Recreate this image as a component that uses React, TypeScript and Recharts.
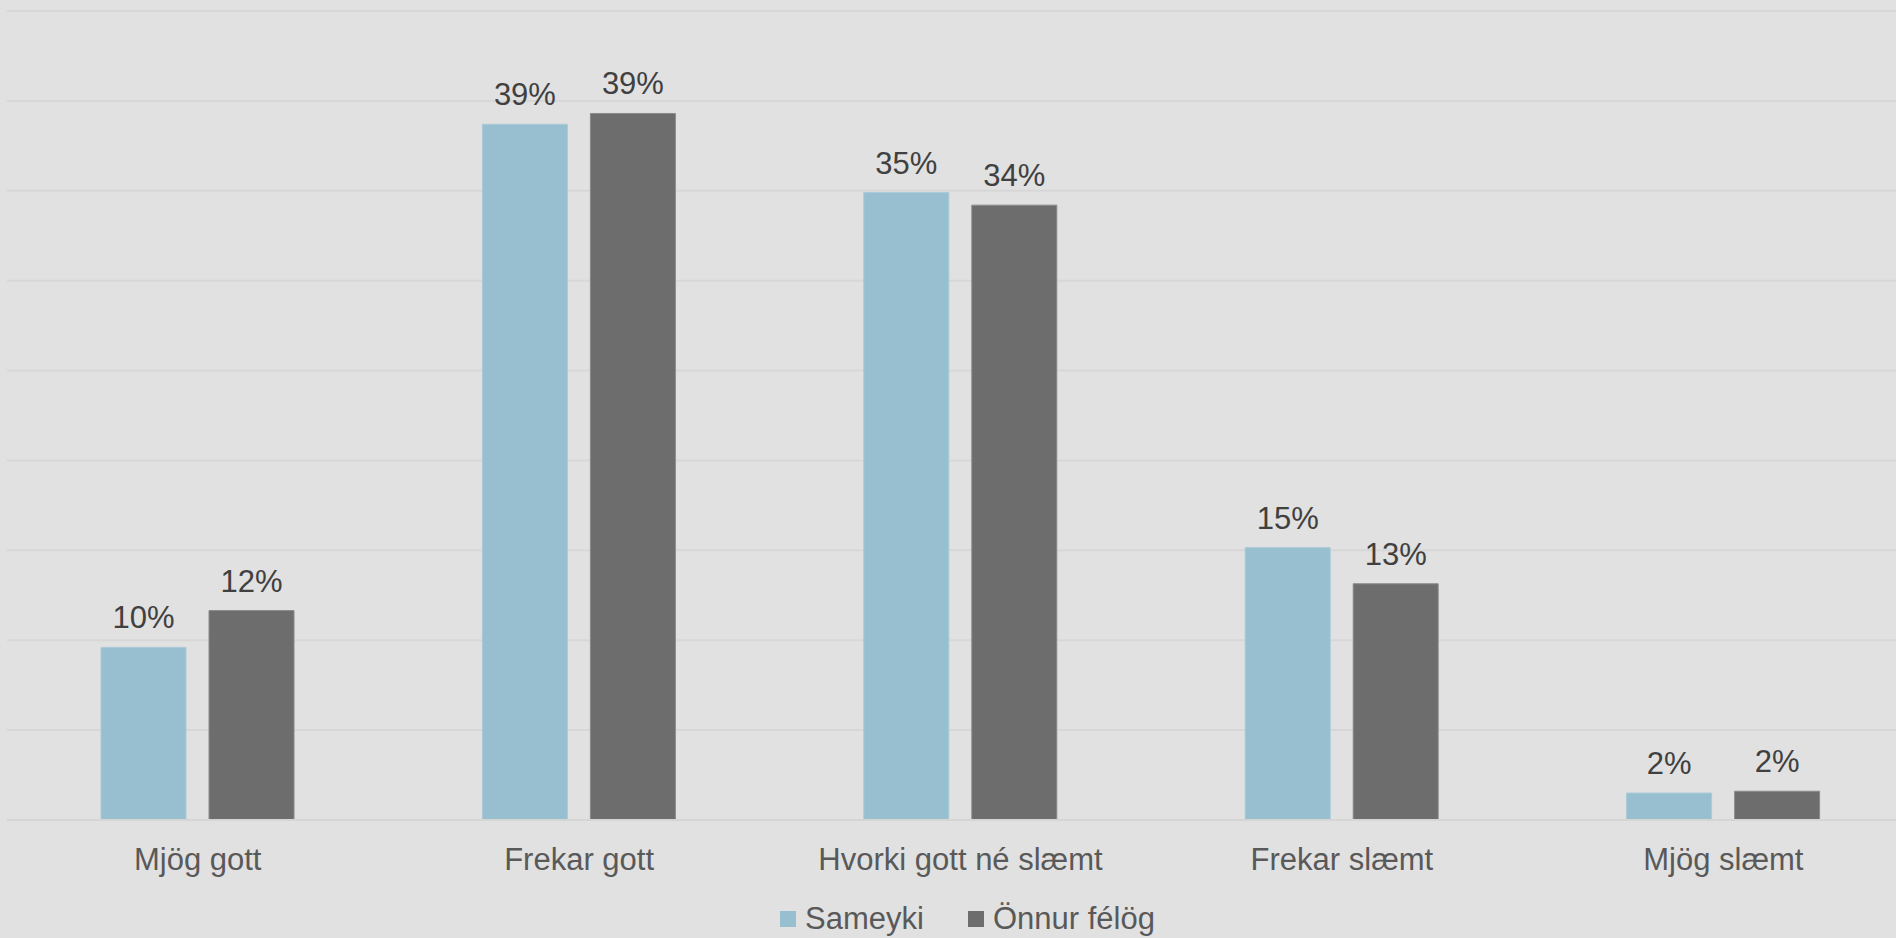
import React from 'react';
import { BarChart, Bar, XAxis, YAxis, CartesianGrid, LabelList, Legend } from 'recharts';

const categories = ['Mjög gott', 'Frekar gott', 'Hvorki gott né slæmt', 'Frekar slæmt', 'Mjög slæmt'];
const sameyki = [9.6, 38.7, 34.9, 15.15, 1.5];
const onnur = [11.65, 39.3, 34.2, 13.14, 1.6];
const yTicks = [0, 5, 10, 15, 20, 25, 30, 35, 40, 45];
const seriesNames = ['Sameyki', 'Önnur félög'];
const seriesColors = ['#97BFCF', '#6D6D6D'];

const data = categories.map((c, i) => ({ name: c, s: sameyki[i], o: onnur[i] }));

const FONT = 'Liberation Sans, Arial, sans-serif';

const LegendContent = () => (
  <div
    style={{
      height: 38,
      display: 'flex',
      justifyContent: 'center',
      alignItems: 'center',
      fontFamily: FONT,
      fontSize: 31,
      color: '#595959',
      paddingLeft: 14,
    }}
  >
    {seriesNames.map((n, i) => (
      <div key={n} style={{ display: 'flex', alignItems: 'center', marginRight: i === 0 ? 44 : 0 }}>
        <div style={{ width: 16, height: 16, background: seriesColors[i], marginRight: 9 }} />
        <span>{n}</span>
      </div>
    ))}
  </div>
);

export default function App() {
  return (
    <div style={{ position: 'absolute', left: 0, top: 0, width: 1896, height: 938, background: '#E1E1E1', overflow: 'hidden' }}>
      <BarChart
        width={1896}
        height={938}
        data={data}
        margin={{ top: 11, right: -18, left: 7, bottom: 0 }}
        barSize={85}
        barGap={23}
      >
        <CartesianGrid vertical={false} stroke="#D7D7D7" strokeWidth={2} />
        <YAxis hide domain={[0, 45]} ticks={yTicks} />
        <XAxis
          dataKey="name"
          height={80}
          axisLine={{ stroke: '#D5D5D5', strokeWidth: 2 }}
          tickLine={false}
          tickSize={0}
          tickMargin={28}
          tick={{ fill: '#595959', fontSize: 31, fontFamily: FONT }}
          interval={0}
        />
        <Legend verticalAlign="bottom" content={<LegendContent />} />
        <Bar dataKey="s" name={seriesNames[0]} fill={seriesColors[0]} stroke="#A9CAD8" strokeWidth={1} isAnimationActive={false}>
          <LabelList
            dataKey="s"
            position="top"
            offset={19}
            formatter={(v: number) => `${Math.round(v)}%`}
            style={{ fill: '#404040', fontSize: 31, fontFamily: FONT }}
          />
        </Bar>
        <Bar dataKey="o" name={seriesNames[1]} fill={seriesColors[1]} stroke="#8A8A8A" strokeWidth={1} isAnimationActive={false}>
          <LabelList
            dataKey="o"
            position="top"
            offset={19}
            formatter={(v: number) => `${Math.round(v)}%`}
            style={{ fill: '#404040', fontSize: 31, fontFamily: FONT }}
          />
        </Bar>
      </BarChart>
    </div>
  );
}
